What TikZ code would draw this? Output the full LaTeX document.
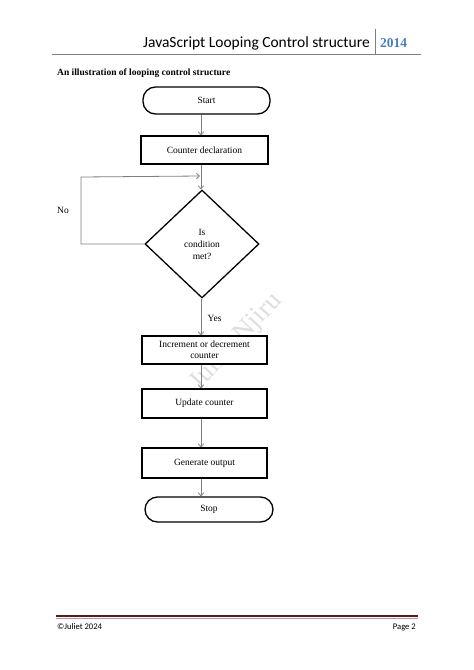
\documentclass[tikz,border=0pt]{standalone}
\usepackage{fontspec}
\setmainfont{Liberation Serif}
\newfontfamily\hdfont{Carlito}
\usetikzlibrary{shapes.geometric,arrows.meta,positioning}
\definecolor{linegray}{HTML}{7F7F7F}
\definecolor{yearblue}{HTML}{4A7EBB}
\definecolor{rulered}{HTML}{5C1A1A}
\definecolor{rulepink}{HTML}{C89292}
\begin{document}
\begin{tikzpicture}
    [x=1pt,y=-1pt,
     terminal/.style={draw,line width=1.3pt,fill=white,rounded corners=12.5pt,
                      font=\fontsize{9.5}{11}\selectfont},
     process/.style={draw,line width=1.3pt,fill=white,align=center,
                     font=\fontsize{9.5}{11}\selectfont},
     decision/.style={draw,line width=1.3pt,fill=white,diamond,inner sep=0pt,align=center,
                      minimum width=114pt,minimum height=108pt,
                      font=\fontsize{9.5}{12}\selectfont},
     flow/.style={draw=linegray,line width=0.8pt,-{Straight Barb[length=3pt,width=5.5pt]}},
     label/.style={font=\fontsize{9.5}{11}\selectfont}]
    \useasboundingbox (0,0) rectangle (474,670);
    % header
    \node[anchor=base east,inner sep=0pt,font=\hdfont\fontsize{15.5}{17}\selectfont] (title) at (370,47)
        {JavaScript Looping Control structure};
    \node[anchor=base west,inner sep=0pt,text=yearblue,font=\bfseries\fontsize{13.5}{15}\selectfont] (year) at (380,47) {2014};
    \draw[linegray,line width=0.7pt] (375,29) -- (375,54);
    \draw[linegray,line width=0.9pt] (52,54.5) -- (421,54.5);
    \node[anchor=base west,inner sep=0pt,font=\bfseries\fontsize{9.5}{11}\selectfont] (caption) at (57,75)
        {An illustration of looping control structure};
    % watermark
    \node[rotate=47,text=black!13,font=\fontsize{27}{28}\selectfont] (wmark) at (236,342) {Juliet Njiru};
    % flowchart
    \coordinate (axis) at (201,0);
    \node[terminal,minimum width=127pt,minimum height=27pt] (start) at (206.5,100.5) {Start};
    \node[process,minimum width=127pt,minimum height=28pt] (decl) at (204.5,150) {Counter declaration};
    \node[decision] (cond) at (202,244) {Is\\condition\\met?};
    \node[process,minimum width=125pt,minimum height=28pt] (incr) at (204.5,350)
        {Increment or decrement\\counter};
    \node[process,minimum width=125pt,minimum height=29pt] (upd) at (204.5,403.5) {Update counter};
    \node[process,minimum width=125pt,minimum height=30pt] (gen) at (204.5,463) {Generate output};
    \node[terminal,minimum width=128pt,minimum height=25pt] (stop) at (209,509.5) {Stop};
    % connectors
    \draw[flow] (start.south -| axis) -- (decl.north -| axis);
    \draw[flow] (decl.south -| axis) -- (cond.north -| axis);
    \draw[flow] (cond.south -| axis) -- node[label,right=3pt,pos=0.55] (yes) {Yes} (incr.north -| axis);
    \draw[flow] (incr.south -| axis) -- (upd.north -| axis);
    \draw[flow] (upd.south -| axis) -- (gen.north -| axis);
    \draw[flow] (gen.south -| axis) -- (stop.north -| axis);
    \coordinate (back) at (81,177);
    \coordinate (merge) at (200,176);
    \draw[flow] (cond.west) -| (back) -- (merge);
    \node[label] (no) at (63,210) {No};
    % footer
    \draw[rulered,line width=2pt] (56,616) -- (418,616);
    \draw[rulepink,line width=0.8pt] (56,618.3) -- (418,618.3);
    \node[anchor=base west,inner sep=0pt,font=\hdfont\fontsize{8.6}{10}\selectfont] (copy) at (57,629) {©Juliet 2024};
    \node[anchor=base east,inner sep=0pt,font=\hdfont\fontsize{8.6}{10}\selectfont] (page) at (416,629) {Page 2};
\end{tikzpicture}
\end{document}
